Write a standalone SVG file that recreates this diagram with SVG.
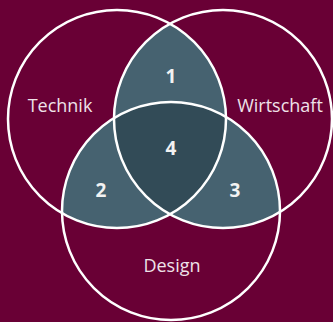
<svg xmlns="http://www.w3.org/2000/svg" width="333" height="322" viewBox="0 0 333 322">
  <style>
    .ring { fill: none; stroke: #ffffff; stroke-width: 2.5; }
    .pair { fill: #466270; }
    .core { fill: #324b57; }
    .label { font-family: "Open Sans", "Noto Sans", sans-serif; font-size: 18px; fill: #efe2e9; text-anchor: middle; }
    .num { font-family: "Open Sans", "Noto Sans", sans-serif; font-size: 19px; font-weight: bold; fill: #f2f2f2; text-anchor: middle; }
  </style>
  <defs>
    <clipPath id="clipL"><circle cx="117" cy="119" r="109"/></clipPath>
    <clipPath id="clipR"><circle cx="223" cy="119" r="109"/></clipPath>
    <clipPath id="clipB"><circle cx="171" cy="211" r="109"/></clipPath>
  </defs>
  <rect x="0" y="0" width="333" height="322" fill="#690035"/>

  <g id="region-1">
    <circle class="pair" cx="117" cy="119" r="109" clip-path="url(#clipR)"/>
    <text class="num" x="171" y="83">1</text>
  </g>
  <g id="region-2">
    <circle class="pair" cx="117" cy="119" r="109" clip-path="url(#clipB)"/>
    <text class="num" x="101" y="197">2</text>
  </g>
  <g id="region-3">
    <circle class="pair" cx="223" cy="119" r="109" clip-path="url(#clipB)"/>
    <text class="num" x="235" y="197">3</text>
  </g>
  <g id="region-4">
    <g clip-path="url(#clipR)">
      <circle class="core" cx="117" cy="119" r="109" clip-path="url(#clipB)"/>
    </g>
    <text class="num" x="171" y="155">4</text>
  </g>

  <g id="technik">
    <circle class="ring" cx="117" cy="119" r="109"/>
    <text class="label" x="60" y="112">Technik</text>
  </g>
  <g id="wirtschaft">
    <circle class="ring" cx="223" cy="119" r="109"/>
    <text class="label" x="280" y="112">Wirtschaft</text>
  </g>
  <g id="design">
    <circle class="ring" cx="171" cy="211" r="109"/>
    <text class="label" x="172" y="272">Design</text>
  </g>
</svg>
